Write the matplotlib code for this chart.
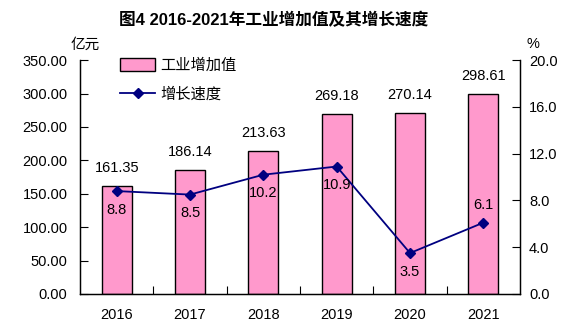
import matplotlib.pyplot as plt
import numpy as np
from matplotlib.ticker import FormatStrFormatter, FixedLocator

plt.rcParams['font.family'] = ['Liberation Sans', 'Noto Sans CJK SC', 'DejaVu Sans']

years = ["2016", "2017", "2018", "2019", "2020", "2021"]
added_value = [161.35, 186.14, 213.63, 269.18, 270.14, 298.61]
growth = [8.8, 8.5, 10.2, 10.9, 3.5, 6.1]

FS = 10.5

fig = plt.figure(figsize=(5.82, 3.32), dpi=100)
ax = fig.add_axes([0.1375, 0.1145, 0.756, 0.7045])
ax2 = ax.twinx()

x = np.arange(len(years))
bars = ax.bar(x, added_value, width=0.41, color="#FF99CC", edgecolor="black",
              linewidth=1.0, label="工业增加值", zorder=2)
line, = ax2.plot(x, growth, color="#000080", marker="D", markersize=5,
                 linewidth=1.3, label="增长速度", zorder=3)

ax.set_xlim(-0.5, len(years) - 0.5)
ax.set_ylim(0, 350)
ax2.set_ylim(0, 20)
ax.set_yticks(np.arange(0, 351, 50))
ax2.set_yticks(np.arange(0, 20.1, 4))
ax.yaxis.set_major_formatter(FormatStrFormatter("%.2f"))
ax2.yaxis.set_major_formatter(FormatStrFormatter("%.1f"))

ax.set_xticks(x)
ax.set_xticklabels(years)
ax.xaxis.set_minor_locator(FixedLocator(np.arange(0.5, len(years) - 1, 1)))
ax.tick_params(axis="x", which="major", length=0, pad=10, labelsize=FS)
ax.tick_params(axis="x", which="minor", direction="in", length=6, width=0.8)
ax.tick_params(axis="y", direction="in", length=6, width=0.8, labelsize=FS, pad=9)
ax2.tick_params(axis="y", direction="in", length=6, width=0.8, labelsize=FS, pad=6.5)

for a in (ax, ax2):
    a.spines["top"].set_visible(False)
    for s in ("left", "right", "bottom"):
        a.spines[s].set_linewidth(0.9)

# value labels above each bar
for xi, v in zip(x, added_value):
    ax.annotate(f"{v:.2f}", (xi, v), xytext=(0, 13), textcoords="offset points",
                ha="center", va="center", fontsize=FS)

# growth labels below the markers, except the last one which sits above
for i, (xi, g) in enumerate(zip(x, growth)):
    dy = 12.5 if i == len(growth) - 1 else -13.5
    ax2.annotate(f"{g}", (xi, g), xytext=(0, dy), textcoords="offset points",
                 ha="center", va="center", fontsize=FS)

ax.legend(handles=[bars, line], loc="upper left", bbox_to_anchor=(0.06, 1.073),
          frameon=False, handlelength=2.3, handleheight=0.9,
          labelspacing=0.8, handletextpad=0.3,
          prop={"family": ["Noto Sans CJK SC"], "size": 11})

fig.text(0.471, 0.94, "图4 2016-2021年工业增加值及其增长速度", ha="center", va="center",
         fontsize=12, fontweight="bold", family=["Liberation Sans", "Noto Sans CJK SC"])
fig.text(0.146, 0.864, "亿元", ha="center", va="center", fontsize=FS,
         family=["Noto Sans CJK SC"])
fig.text(0.916, 0.867, "%", ha="center", va="center", fontsize=FS)

fig.savefig("out.png", dpi=100)
